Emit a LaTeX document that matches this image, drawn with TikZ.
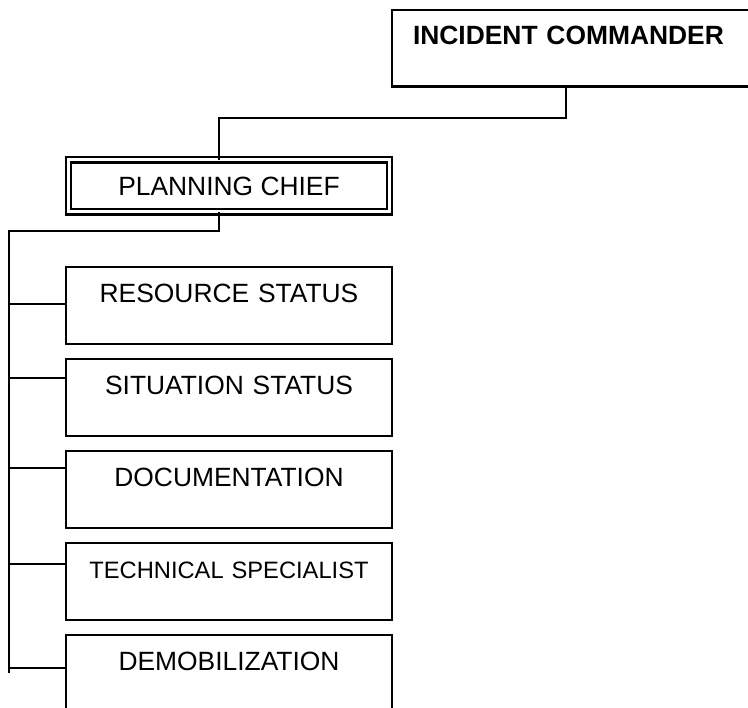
\documentclass[tikz,border=0pt]{standalone}
\usepackage{fontspec}
\setmainfont{Liberation Sans}
\usetikzlibrary{positioning}

\begin{document}
\begin{tikzpicture}[x=1pt,y=-1pt,
  box/.style={draw,line width=2.1pt,outer sep=0pt,inner sep=0pt,
    minimum width=326pt,text width=326pt,align=center,
    text height=35.5pt,text depth=41.5pt,font=\fontsize{26.4}{30}\selectfont},
  link/.style={line width=2pt}]
  \useasboundingbox (0,0) rectangle (748,708);
  \clip (0,0) rectangle (748,708);

  % commander (runs off the page on the right)
  \node[box,anchor=north west,text width=350pt,inner xsep=21pt,align=left,
    text height=35pt,text depth=41.5pt,
    font=\bfseries\fontsize{26.4}{30}\selectfont] (ic) at (392,10) {INCIDENT COMMANDER};

  % section chief, double frame
  \node[draw,double,double distance=3pt,line width=2.2pt,outer sep=0pt,
    minimum width=321pt,minimum height=52pt,
    font=\fontsize{26.4}{30}\selectfont] (plan) at (229,186) {PLANNING CHIEF};

  % units
  \node[box,anchor=north west] (rs) at (66,267) {RESOURCE STATUS};
  \node[box,below=15pt of rs] (ss) {SITUATION STATUS};
  \node[box,below=15pt of ss] (doc) {DOCUMENTATION};
  \node[box,below=15pt of doc,font=\fontsize{23.7}{28}\selectfont] (ts) {TECHNICAL SPECIALIST};
  \node[box,below=15pt of ts] (dm) {DEMOBILIZATION};

  % links
  \coordinate (spine) at (8.5,673);
  \draw[link] ([xshift=174pt]ic.south west) -- ++(0,32) -| ([xshift=-10pt]plan.north);
  \draw[link] ([xshift=-10pt]plan.south) -- ++(0,19) -| (spine);
  \foreach \b/\o in {rs/37,ss/19,doc/17,ts/21,dm/33} {
    \draw[link] ([yshift=-\o pt]\b.north west) -- ++(-57.5,0);
  }
\end{tikzpicture}
\end{document}
